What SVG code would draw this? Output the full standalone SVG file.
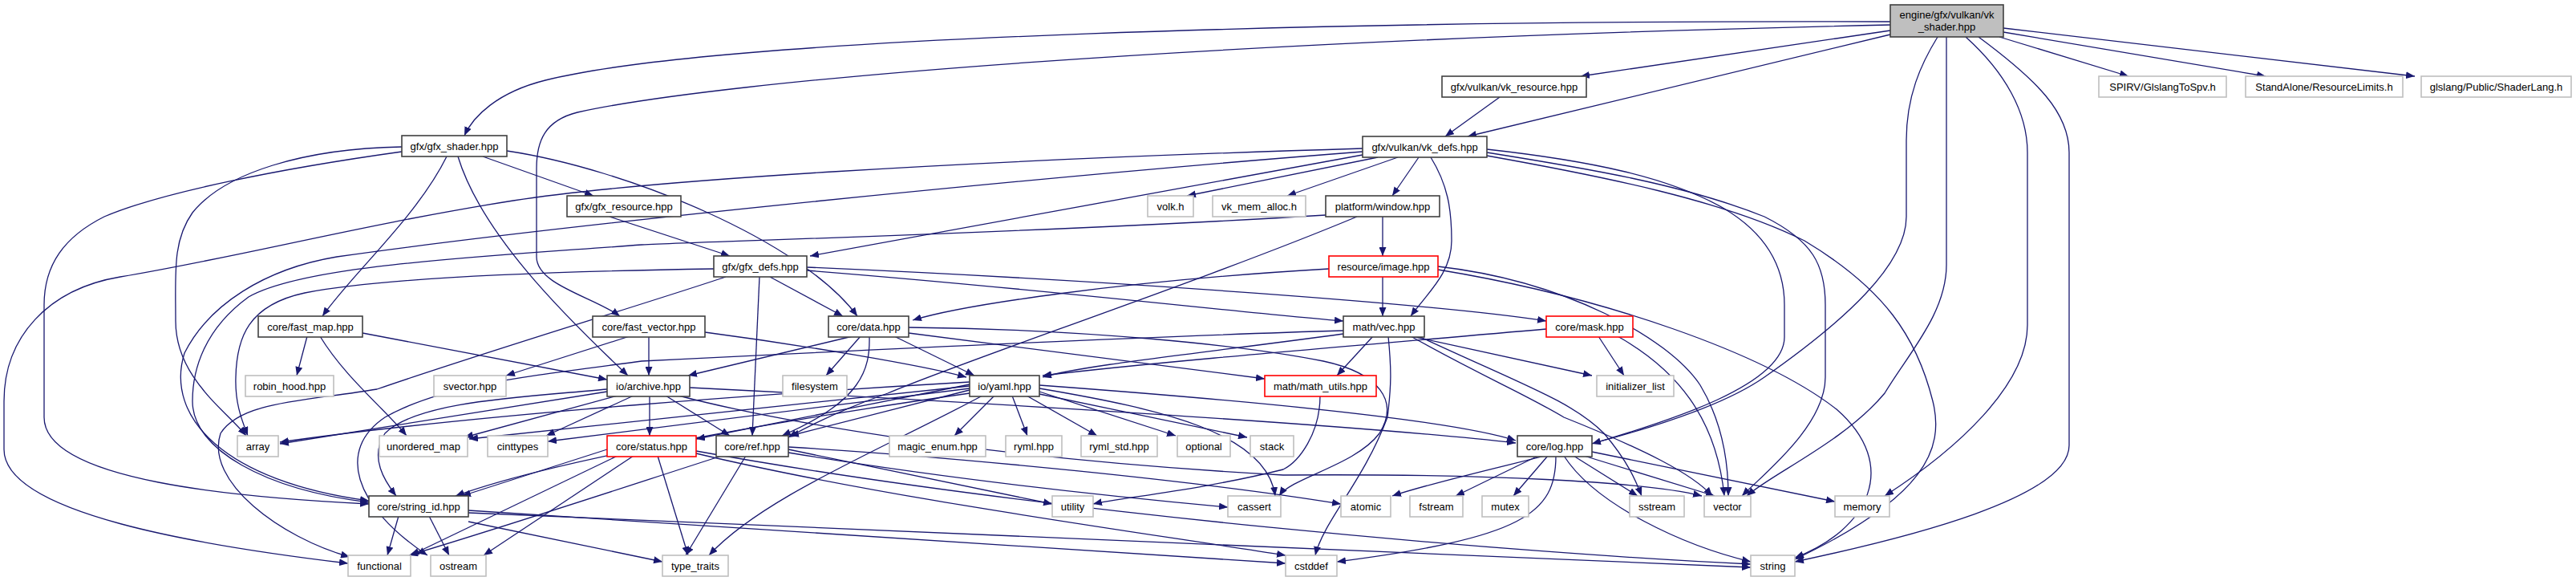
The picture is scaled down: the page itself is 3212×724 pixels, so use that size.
<svg xmlns="http://www.w3.org/2000/svg" width="3212" height="724" viewBox="0 0 3212 724">
<defs>
<marker id="a" markerUnits="userSpaceOnUse" markerWidth="12" markerHeight="9" refX="11" refY="4.5" orient="auto"><path d="M0,0 L11,4.5 L0,9 z" fill="#191970"/></marker>
<style>
.e path{fill:none;stroke:#191970;stroke-width:1.3;marker-end:url(#a)}
.node rect{fill:#fff;stroke:#404040;stroke-width:1.6}
.node.x rect{stroke:#bfbfbf}
.node.r rect{stroke:#ff0000}
.node.root rect{fill:#bfbfbf}
text{font-family:"Liberation Sans",Arial,Helvetica,sans-serif;font-size:13px;text-anchor:middle;fill:#000}
</style>
</defs>
<rect width="3212" height="724" fill="#fff"/>
<g id="edges" class="e">
<path d="M2357,27 C1700,25 900,45 680,100 C620,115 590,145 579,169"/>
<path d="M2357,31 C1500,50 900,100 720,140 C680,150 669,175 669,210 L669,320 C669,355 740,370 773,394"/>
<path d="M2357,38 L1971,95"/>
<path d="M2357,43 L1830,170"/>
<path d="M2493,46 L2654,95"/>
<path d="M2498,40 L2825,95"/>
<path d="M2498,35 L3011,95"/>
<path d="M2416,46 C2395,80 2377,120 2377,175 L2377,270 C2377,330 2300,400 2200,470 C2100,540 1850,580 1736,618"/>
<path d="M2427,46 L2427,330 C2427,390 2380,440 2350,490 C2300,550 2210,590 2178,618"/>
<path d="M2451,46 C2500,90 2528,140 2528,190 L2528,405 C2528,480 2440,560 2350,618"/>
<path d="M2467,46 C2540,100 2580,140 2580,190 L2580,555 C2580,620 2380,670 2238,700"/>
<path d="M1870,121 L1802,170"/>
<path d="M602,195 L740,244"/>
<path d="M557,195 C520,270 440,340 402,394"/>
<path d="M571,195 C600,290 700,390 783,468"/>
<path d="M632,188 C780,210 1000,300 1069,394"/>
<path d="M501,183 C380,185 280,215 240,265 C215,300 219,340 219,400 C219,470 280,510 307,543"/>
<path d="M501,189 C350,210 200,240 130,270 C80,295 55,330 55,380 L55,520 C55,600 300,620 460,628"/>
<path d="M1718,196 L1480,244"/>
<path d="M1743,196 L1605,244"/>
<path d="M1769,196 L1736,244"/>
<path d="M1784,196 C1805,230 1810,260 1810,300 C1810,340 1780,365 1759,394"/>
<path d="M1699,193 L1010,319"/>
<path d="M1699,189 C1300,220 700,280 420,320 C330,335 260,380 230,440 C205,520 280,600 460,624"/>
<path d="M1699,185 C1200,200 800,225 640,250 C450,280 300,320 150,345 C60,360 5,420 5,500 L5,560 C5,640 250,680 434,702"/>
<path d="M1854,186 C1980,200 2080,220 2150,260 C2200,290 2225,330 2225,380 L2225,420 C2225,480 2080,525 1985,553"/>
<path d="M1854,190 C1980,210 2100,230 2200,270 C2260,300 2276,330 2276,380 L2276,470 C2276,530 2200,590 2172,618"/>
<path d="M1854,194 C2000,220 2150,250 2250,300 C2350,360 2390,420 2410,500 C2425,560 2400,620 2238,697"/>
<path d="M760,270 L910,319"/>
<path d="M1724,270 L1724,319"/>
<path d="M1692,270 C1500,350 1200,450 1107,490 C1050,510 1010,530 983,545"/>
<path d="M1653,268 C1300,290 900,300 800,305 C600,320 380,330 310,370 C255,410 240,460 240,500 C240,560 330,610 460,626"/>
<path d="M960,345 L1051,394"/>
<path d="M1006,337 C1300,360 1550,390 1675,400"/>
<path d="M1006,333 C1400,350 1800,380 1928,400"/>
<path d="M947,345 L938,543"/>
<path d="M890,335 C700,338 480,345 380,365 C310,380 295,420 294,470 C293,500 300,520 309,543"/>
<path d="M905,345 C800,380 600,440 470,485 C380,500 300,500 275,540 C255,600 350,670 436,694"/>
<path d="M383,419 L370,468"/>
<path d="M399,419 C430,470 480,510 507,543"/>
<path d="M452,415 L757,473"/>
<path d="M785,419 L631,468"/>
<path d="M809,419 L809,468"/>
<path d="M879,414 C1000,430 1150,455 1205,470"/>
<path d="M1063,419 L858,468"/>
<path d="M1073,419 L1030,468"/>
<path d="M1115,419 L1215,468"/>
<path d="M1084,419 C1085,460 1075,500 975,543"/>
<path d="M1133,415 L1577,472"/>
<path d="M1133,408 C1350,410 1550,430 1650,450 C1720,465 1745,500 1720,540 C1690,580 1610,595 1595,618"/>
<path d="M1712,419 L1667,468"/>
<path d="M1760,419 L1985,468"/>
<path d="M1675,416 C1500,440 1350,455 1300,470"/>
<path d="M1759,419 C1850,470 1900,490 1950,520 C2050,560 2110,590 2135,618"/>
<path d="M1769,419 C1900,480 1960,500 2000,540 C2030,575 2040,600 2047,618"/>
<path d="M1731,419 C1735,460 1735,480 1730,520 C1700,600 1650,650 1640,692"/>
<path d="M1675,412 C1400,420 1000,440 800,450 C650,470 550,480 480,520 C420,560 440,630 533,692"/>
<path d="M1993,419 L2025,468"/>
<path d="M2017,419 C2090,460 2140,520 2150,618"/>
<path d="M1928,410 C1700,430 1450,450 1300,468"/>
<path d="M1724,345 L1724,394"/>
<path d="M1657,335 C1400,350 1200,380 1138,399"/>
<path d="M1793,332 C1950,350 2080,420 2120,480 C2150,530 2155,580 2155,618"/>
<path d="M1793,336 C2000,370 2200,440 2290,510 C2370,580 2330,660 2238,695"/>
<path d="M757,488 L349,553"/>
<path d="M770,493 L579,545"/>
<path d="M790,493 L681,543"/>
<path d="M810,493 L810,543"/>
<path d="M830,493 L910,543"/>
<path d="M757,485 C650,495 520,500 480,540 C460,570 480,600 494,618"/>
<path d="M860,483 C1200,500 1700,530 1890,552"/>
<path d="M846,493 C950,520 1200,570 1600,592 C1850,590 2050,600 2122,618"/>
<path d="M1240,493 L1190,543"/>
<path d="M1262,493 L1281,543"/>
<path d="M1280,493 L1368,543"/>
<path d="M1296,488 L1466,543"/>
<path d="M1296,491 L1555,545"/>
<path d="M1209,479 L868,547"/>
<path d="M1209,486 L985,543"/>
<path d="M1209,476 C1000,488 600,515 349,551"/>
<path d="M1209,481 L585,547"/>
<path d="M1209,484 L683,550"/>
<path d="M1209,490 C1000,520 700,570 568,618"/>
<path d="M1225,493 C1100,560 950,620 884,692"/>
<path d="M1296,480 C1500,495 1800,520 1890,549"/>
<path d="M1296,484 C1450,510 1580,540 1590,618"/>
<path d="M930,568 L855,692"/>
<path d="M983,560 L1312,628"/>
<path d="M983,564 C1200,600 1400,620 1531,632"/>
<path d="M900,568 C800,600 650,650 510,692"/>
<path d="M983,557 C1200,570 1500,600 1672,628"/>
<path d="M770,568 L512,692"/>
<path d="M790,568 L603,692"/>
<path d="M757,560 L576,618"/>
<path d="M820,568 L858,692"/>
<path d="M868,565 C1100,620 1400,660 1603,692"/>
<path d="M868,562 C1300,640 1900,690 2183,703"/>
<path d="M497,643 L483,692"/>
<path d="M535,643 L560,692"/>
<path d="M584,650 L826,700"/>
<path d="M584,636 L1603,702"/>
<path d="M584,639 L2183,707"/>
<path d="M1918,568 L1815,618"/>
<path d="M1930,568 L1887,618"/>
<path d="M1962,568 L2042,618"/>
<path d="M1975,568 L2138,618"/>
<path d="M1985,563 L2288,625"/>
<path d="M1950,568 C1990,630 2100,680 2183,700"/>
<path d="M1940,568 C1940,640 1900,670 1667,700"/>
<path d="M1646,493 C1646,540 1620,575 1600,585 C1500,610 1400,620 1363,628"/>
</g>
<g id="n-root" class="node root"><rect x="2357" y="6" width="141" height="40"/><text x="2427.5" y="23">engine/gfx/vulkan/vk</text><text x="2427.5" y="38">_shader.hpp</text></g>
<g id="n-gfx_shader" class="node"><rect x="501" y="169" width="131" height="26"/><text x="566.5" y="186.5">gfx/gfx_shader.hpp</text></g>
<g id="n-vk_resource" class="node"><rect x="1798" y="95" width="180" height="26"/><text x="1888" y="112.5">gfx/vulkan/vk_resource.hpp</text></g>
<g id="n-vk_defs" class="node"><rect x="1699" y="170" width="155" height="26"/><text x="1776.5" y="187.5">gfx/vulkan/vk_defs.hpp</text></g>
<g id="n-spirv" class="node x"><rect x="2617" y="95" width="159" height="26"/><text x="2696.5" y="112.5">SPIRV/GlslangToSpv.h</text></g>
<g id="n-standalone" class="node x"><rect x="2800" y="95" width="196" height="26"/><text x="2898" y="112.5">StandAlone/ResourceLimits.h</text></g>
<g id="n-glslang" class="node x"><rect x="3019" y="95" width="187" height="26"/><text x="3112.5" y="112.5">glslang/Public/ShaderLang.h</text></g>
<g id="n-gfx_resource" class="node"><rect x="707" y="244" width="142" height="26"/><text x="778" y="261.5">gfx/gfx_resource.hpp</text></g>
<g id="n-volk" class="node x"><rect x="1431" y="244" width="57" height="26"/><text x="1459.5" y="261.5">volk.h</text></g>
<g id="n-vk_mem_alloc" class="node x"><rect x="1512" y="244" width="116" height="26"/><text x="1570" y="261.5">vk_mem_alloc.h</text></g>
<g id="n-window" class="node"><rect x="1653" y="244" width="142" height="26"/><text x="1724" y="261.5">platform/window.hpp</text></g>
<g id="n-gfx_defs" class="node"><rect x="890" y="319" width="116" height="26"/><text x="948" y="336.5">gfx/gfx_defs.hpp</text></g>
<g id="n-image" class="node r"><rect x="1657" y="319" width="136" height="26"/><text x="1725" y="336.5">resource/image.hpp</text></g>
<g id="n-fast_map" class="node"><rect x="322" y="394" width="130" height="26"/><text x="387" y="411.5">core/fast_map.hpp</text></g>
<g id="n-fast_vector" class="node"><rect x="739" y="394" width="140" height="26"/><text x="809" y="411.5">core/fast_vector.hpp</text></g>
<g id="n-data" class="node"><rect x="1033" y="394" width="100" height="26"/><text x="1083" y="411.5">core/data.hpp</text></g>
<g id="n-vec" class="node"><rect x="1675" y="394" width="101" height="26"/><text x="1725.5" y="411.5">math/vec.hpp</text></g>
<g id="n-mask" class="node r"><rect x="1928" y="394" width="108" height="26"/><text x="1982" y="411.5">core/mask.hpp</text></g>
<g id="n-robin_hood" class="node x"><rect x="306" y="468" width="110" height="26"/><text x="361" y="485.5">robin_hood.hpp</text></g>
<g id="n-svector" class="node x"><rect x="541" y="468" width="90" height="26"/><text x="586" y="485.5">svector.hpp</text></g>
<g id="n-archive" class="node"><rect x="757" y="468" width="103" height="26"/><text x="808.5" y="485.5">io/archive.hpp</text></g>
<g id="n-filesystem" class="node x"><rect x="976" y="468" width="80" height="26"/><text x="1016" y="485.5">filesystem</text></g>
<g id="n-yaml" class="node"><rect x="1209" y="468" width="87" height="26"/><text x="1252.5" y="485.5">io/yaml.hpp</text></g>
<g id="n-math_utils" class="node r"><rect x="1577" y="468" width="139" height="26"/><text x="1646.5" y="485.5">math/math_utils.hpp</text></g>
<g id="n-initializer_list" class="node x"><rect x="1991" y="468" width="96" height="26"/><text x="2039" y="485.5">initializer_list</text></g>
<g id="n-array" class="node x"><rect x="296" y="543" width="51" height="26"/><text x="321.5" y="560.5">array</text></g>
<g id="n-unordered_map" class="node x"><rect x="473" y="543" width="110" height="26"/><text x="528" y="560.5">unordered_map</text></g>
<g id="n-cinttypes" class="node x"><rect x="608" y="543" width="75" height="26"/><text x="645.5" y="560.5">cinttypes</text></g>
<g id="n-status" class="node r"><rect x="757" y="543" width="111" height="26"/><text x="812.5" y="560.5">core/status.hpp</text></g>
<g id="n-ref" class="node"><rect x="893" y="543" width="90" height="26"/><text x="938" y="560.5">core/ref.hpp</text></g>
<g id="n-magic_enum" class="node x"><rect x="1109" y="543" width="120" height="26"/><text x="1169" y="560.5">magic_enum.hpp</text></g>
<g id="n-ryml" class="node x"><rect x="1254" y="543" width="70" height="26"/><text x="1289" y="560.5">ryml.hpp</text></g>
<g id="n-ryml_std" class="node x"><rect x="1348" y="543" width="95" height="26"/><text x="1395.5" y="560.5">ryml_std.hpp</text></g>
<g id="n-optional" class="node x"><rect x="1468" y="543" width="66" height="26"/><text x="1501" y="560.5">optional</text></g>
<g id="n-stack" class="node x"><rect x="1559" y="543" width="54" height="26"/><text x="1586" y="560.5">stack</text></g>
<g id="n-log" class="node"><rect x="1892" y="543" width="93" height="26"/><text x="1938.5" y="560.5">core/log.hpp</text></g>
<g id="n-string_id" class="node"><rect x="460" y="618" width="124" height="26"/><text x="522" y="635.5">core/string_id.hpp</text></g>
<g id="n-utility" class="node x"><rect x="1312" y="618" width="51" height="26"/><text x="1337.5" y="635.5">utility</text></g>
<g id="n-cassert" class="node x"><rect x="1531" y="618" width="66" height="26"/><text x="1564" y="635.5">cassert</text></g>
<g id="n-atomic" class="node x"><rect x="1672" y="618" width="62" height="26"/><text x="1703" y="635.5">atomic</text></g>
<g id="n-fstream" class="node x"><rect x="1758" y="618" width="66" height="26"/><text x="1791" y="635.5">fstream</text></g>
<g id="n-mutex" class="node x"><rect x="1848" y="618" width="58" height="26"/><text x="1877" y="635.5">mutex</text></g>
<g id="n-sstream" class="node x"><rect x="2032" y="618" width="68" height="26"/><text x="2066" y="635.5">sstream</text></g>
<g id="n-vector" class="node x"><rect x="2125" y="618" width="58" height="26"/><text x="2154" y="635.5">vector</text></g>
<g id="n-memory" class="node x"><rect x="2288" y="618" width="68" height="26"/><text x="2322" y="635.5">memory</text></g>
<g id="n-functional" class="node x"><rect x="434" y="692" width="78" height="26"/><text x="473" y="709.5">functional</text></g>
<g id="n-ostream" class="node x"><rect x="537" y="692" width="69" height="26"/><text x="571.5" y="709.5">ostream</text></g>
<g id="n-type_traits" class="node x"><rect x="826" y="692" width="82" height="26"/><text x="867" y="709.5">type_traits</text></g>
<g id="n-cstddef" class="node x"><rect x="1603" y="692" width="64" height="26"/><text x="1635" y="709.5">cstddef</text></g>
<g id="n-string" class="node x"><rect x="2183" y="692" width="55" height="26"/><text x="2210.5" y="709.5">string</text></g>
</svg>
